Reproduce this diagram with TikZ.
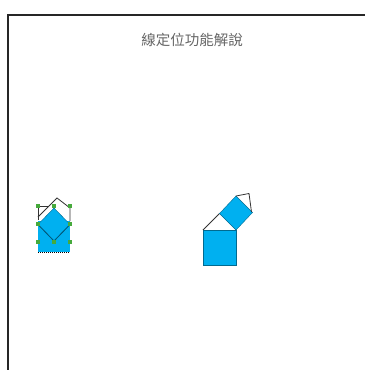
\documentclass[tikz,border=0pt]{standalone}
\usepackage{fontspec}
\newfontfamily\cjkfont{Noto Sans CJK TC}
\definecolor{tileblue}{RGB}{0,176,240}
\definecolor{handlegreen}{RGB}{70,170,60}
\begin{document}
\begin{tikzpicture}[x=1pt, y=-1pt,
  tile/.style={fill=tileblue, draw=tileblue!60!black, line width=0.4pt},
  outline/.style={draw=black!80, line width=0.8pt},
  handle/.style={rectangle, fill=handlegreen, inner sep=0pt, minimum size=3.6pt}]
  \useasboundingbox (0,0) rectangle (365,370);
  \draw[line width=1.5pt, black!85] (8,370) -- (8,15) -- (365,15);
  \node[text=black!60] (title) at (192,40) {\cjkfont\fontsize{14.5}{16}\selectfont 線定位功能解說};
  % before positioning
  \draw[outline] (38,220) -- (38,206) -- (48,206);
  \draw[outline] (38,217) -- (57,198) -- (70,208) -- (70,221);
  \fill[tileblue] (38,221) rectangle (70,252);
  \draw[dash pattern=on 1pt off 1pt, line width=1pt] (38,252) -- (70,252);
  \filldraw[tile] (54,208) -- (70,224.5) -- (54,241) -- (38,224.5) -- cycle;
  \draw[tileblue!50!black, line width=0.8pt] (38,224.5) -- (54,241) -- (70,224.5);
  \foreach \hx/\hy [count=\i] in {38/206, 54/206, 70/206, 38/224, 70/224, 38/242, 54/242, 70/242}
    \node[handle] (h-\i) at (\hx,\hy) {};
  % after positioning
  \filldraw[tile] (203,230) rectangle (236,265);
  \draw[outline] (203,230) -- (219.5,213.5);
  \filldraw[tile] (219.5,213.5) -- (236,196) -- (252.5,212.5) -- (236,230) -- cycle;
  \draw[outline] (236,196) -- (249,193.5) -- (251.5,212);
\end{tikzpicture}
\end{document}
